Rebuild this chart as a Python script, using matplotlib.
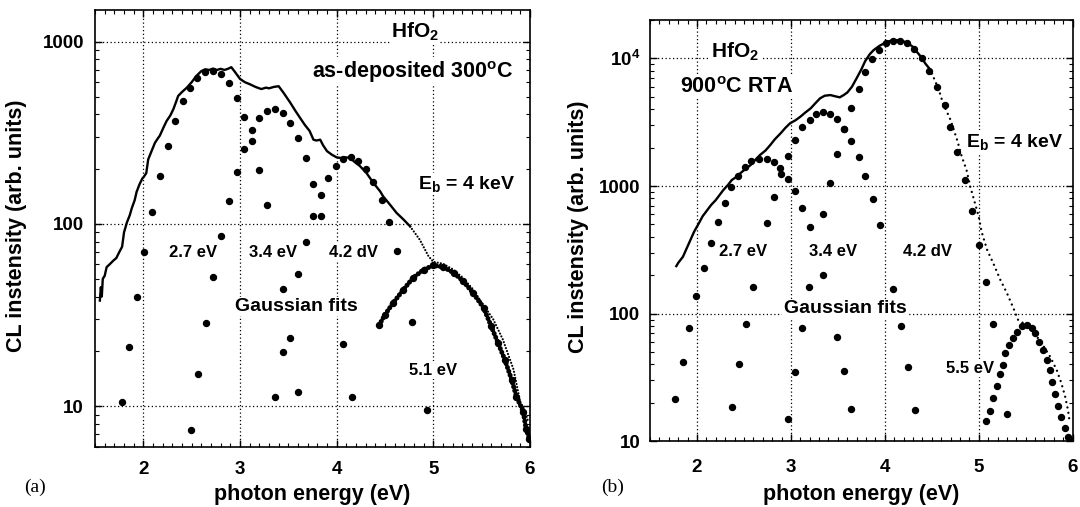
import matplotlib
matplotlib.use("Agg")
import matplotlib.pyplot as plt
from matplotlib.ticker import FixedLocator, FixedFormatter, MultipleLocator, LogLocator, NullFormatter

plt.rcParams['font.family'] = ['Liberation Sans', 'DejaVu Sans']
plt.rcParams['font.weight'] = 'bold'
plt.rcParams['mathtext.default'] = 'regular'

# -----------------------------
# (a) as-deposited 300 C
# -----------------------------
# measured spectrum, solid part
a_meas_x = [1.55, 1.56, 1.57, 1.58, 1.60, 1.62, 1.65, 1.69, 1.72, 1.75, 1.78, 1.80, 1.83, 1.86,
            1.88, 1.91, 1.93, 1.96, 1.99, 2.00, 2.03, 2.05, 2.09, 2.12, 2.15, 2.17, 2.21, 2.24,
            2.28, 2.31, 2.34, 2.36, 2.40, 2.45, 2.50, 2.55, 2.60, 2.64, 2.68, 2.72, 2.76, 2.80,
            2.84, 2.88, 2.91, 2.95, 3.00, 3.05, 3.10, 3.16, 3.22, 3.27, 3.30, 3.35, 3.40, 3.45,
            3.52, 3.57, 3.62, 3.67, 3.72, 3.76, 3.79, 3.83, 3.86, 3.90, 3.95, 4.00, 4.05, 4.10,
            4.14, 4.19, 4.24, 4.31, 4.38, 4.45, 4.48, 4.55, 4.62, 4.69, 4.76]
a_meas_y = [38, 45, 40, 50, 52, 58, 60, 63, 65, 70, 75, 90, 102, 112,
            122, 135, 150, 165, 178, 180, 190, 226, 255, 279, 295, 305, 340, 367,
            395, 426, 470, 504, 530, 560, 600, 650, 690, 706, 700, 712, 700, 710,
            700, 712, 725, 680, 625, 600, 585, 565, 550, 560, 555, 565, 570, 525,
            463, 420, 383, 350, 324, 290, 287, 290, 270, 251, 240, 232, 230, 232,
            230, 218, 208, 190, 168, 151, 142, 128, 115, 106, 97]
# measured spectrum, dotted tail
a_tail_x = [4.76, 4.86, 4.95, 5.00, 5.10, 5.20, 5.30, 5.40, 5.48, 5.55, 5.62, 5.72, 5.83, 5.90, 5.94, 5.98]
a_tail_y = [97, 82, 66.6, 62, 60.5, 56.5, 51, 44.5, 38.5, 34, 30, 23.2, 15.9, 10.5, 9.6, 8.3]

# Gaussian fits
a_g1_x = [1.78, 1.855, 1.93, 2.01, 2.085, 2.17, 2.25, 2.33, 2.41, 2.48, 2.56, 2.64, 2.72, 2.80,
          2.885, 2.965, 3.045, 3.12, 3.20, 3.28, 3.44, 3.52, 3.60]
a_g1_y = [10.6, 21.1, 39.8, 70.3, 117, 183, 267, 366, 473, 560, 631, 680, 690, 665,
          591, 489, 384, 284, 197, 127, 44, 23.7, 12.0]
a_g2_x = [2.49, 2.565, 2.645, 2.725, 2.805, 2.885, 2.965, 3.045, 3.12, 3.20, 3.28, 3.36, 3.44,
          3.52, 3.60, 3.68, 3.76, 3.835, 4.07, 4.155]
a_g2_y = [7.4, 15.1, 28.8, 51.5, 85.7, 133, 192, 259, 326, 380, 417, 426, 406,
          360, 298, 229, 165, 111, 21.9, 11.2]
a_g3_x = [3.36, 3.44, 3.60, 3.68, 3.76, 3.835, 3.915, 3.995, 4.07, 4.145, 4.225, 4.30, 4.38,
          4.465, 4.545, 4.62, 4.775, 4.935]
a_g3_y = [11.2, 19.9, 53, 80, 111, 145, 179, 207, 226, 232, 221, 201, 170,
          135, 102, 71.5, 29.1, 9.5]
a_g4_x = [4.44, 4.50, 4.585, 4.69, 4.79, 4.90, 5.00, 5.10, 5.21, 5.31, 5.41, 5.52, 5.60, 5.67,
          5.74, 5.81, 5.86, 5.93, 5.96, 5.995]
a_g4_y = [27.9, 31.8, 36.9, 43.6, 50.6, 56.2, 59.2, 58.2, 54.0, 48.5, 41.9, 34.7, 27.4, 22.2,
          18.0, 14.0, 11.3, 9.35, 7.5, 6.6]

# -----------------------------
# (b) 900 C RTA
# -----------------------------
b_meas_x = [1.78, 1.80, 1.85, 1.93, 1.97, 2.02, 2.06, 2.11, 2.15, 2.20, 2.24, 2.28, 2.33, 2.37,
            2.42, 2.46, 2.51, 2.57, 2.62, 2.67, 2.73, 2.78, 2.83, 2.89, 2.94, 2.99, 3.05, 3.10,
            3.15, 3.21, 3.26, 3.31, 3.36, 3.42, 3.47, 3.52, 3.56, 3.60, 3.65, 3.70, 3.75, 3.79,
            3.84, 3.88, 3.94, 3.99, 4.04, 4.09, 4.16, 4.21, 4.25, 4.30, 4.34, 4.39, 4.43, 4.47, 4.50]
b_meas_y = [236, 250, 279, 378, 440, 511, 580, 649, 710, 777, 850, 930, 1020, 1114,
            1180, 1257, 1350, 1459, 1600, 1749, 1900, 2095, 2330, 2587, 2850, 3098, 3280, 3490,
            3750, 4059, 4450, 4863, 5100, 5160, 5050, 4953, 5150, 5400, 6000, 7000, 8200, 9500,
            10800, 11600, 12500, 13100, 13600, 13900, 13900, 13500, 13100, 12300, 11270, 10200, 9140, 8400, 7640]
b_tail_x = [4.50, 4.57, 4.62, 4.70, 4.77, 4.82, 4.87, 4.91, 4.96, 5.00, 5.03, 5.09, 5.155, 5.23,
            5.30, 5.37, 5.42, 5.51, 5.65, 5.76, 5.83, 5.88, 5.92, 5.95, 5.97]
b_tail_y = [7640, 5820, 4443, 3292, 2292, 1695, 1334, 988, 733, 575, 439, 315, 248, 184,
            145, 110, 89, 81.5, 62, 46, 36.2, 28.5, 22.4, 17.6, 13.9]

b_g1_x = [1.77, 1.85, 1.92, 1.99, 2.07, 2.15, 2.22, 2.30, 2.36, 2.435, 2.51, 2.58, 2.655, 2.745,
          2.82, 2.885, 2.97, 3.04, 3.12, 3.20, 3.34, 3.49, 3.565, 3.64]
b_g1_y = [21.6, 42.1, 77.6, 138, 227, 360, 522, 740, 988, 1197, 1409, 1570, 1627, 1636,
          1534, 1384, 1135, 908, 672, 478, 200, 66, 35.4, 17.8]
b_g2_x = [2.37, 2.445, 2.52, 2.595, 2.745, 2.82, 2.895, 2.97, 3.04, 3.12, 3.20, 3.265, 3.34, 3.42,
          3.495, 3.565, 3.64, 3.72, 3.79, 3.87, 3.945, 4.09, 4.17, 4.245, 4.32]
b_g2_y = [18.5, 40.6, 83.6, 163, 511, 816, 1237, 1727, 2306, 2884, 3290, 3643, 3797, 3643,
          3326, 2812, 2249, 1695, 1205, 791, 495, 156, 79.6, 38.5, 17.5]
b_g3_x = [2.97, 3.04, 3.115, 3.195, 3.34, 3.42, 3.495, 3.565, 3.64, 3.72, 3.79, 3.86, 3.94, 4.015,
          4.09, 4.165, 4.24, 4.315, 4.395, 4.47, 4.56, 4.64, 4.695, 4.77, 4.855, 4.925, 5.00,
          5.08, 5.155, 5.305]
b_g3_y = [15.0, 35.2, 77.2, 161, 606, 1050, 1770, 2812, 4102, 5780, 7850, 9820, 11610, 13100,
          13740, 13740, 13100, 11830, 10000, 7910, 5997, 4282, 2884, 1845, 1114, 637, 344,
          176, 83.6, 16.4]
b_g4_x = [5.078, 5.12, 5.155, 5.19, 5.227, 5.255, 5.28, 5.326, 5.368, 5.404, 5.457, 5.511, 5.564,
          5.60, 5.645, 5.681, 5.723, 5.759, 5.777, 5.812, 5.847, 5.876, 5.918, 5.953, 5.975]
b_g4_y = [14.3, 17.4, 21.7, 27.1, 33.5, 39.6, 49, 56.9, 64.2, 72.3, 80.1, 81.5, 76.8,
          70.2, 60.4, 52, 43.4, 36.2, 29.4, 23.5, 18.9, 15.4, 12.7, 10.9, 10.2]


def style_axes(ax, ylim, yticks, ylabels):
    ax.set_yscale('log')
    ax.set_xlim(1.5, 6)
    ax.set_ylim(*ylim)
    ax.xaxis.set_major_locator(FixedLocator([2, 3, 4, 5, 6]))
    ax.xaxis.set_minor_locator(MultipleLocator(0.1))
    ax.yaxis.set_major_locator(FixedLocator(yticks))
    ax.yaxis.set_major_formatter(FixedFormatter(ylabels))
    ax.yaxis.set_minor_locator(LogLocator(base=10, subs=range(2, 10)))
    ax.yaxis.set_minor_formatter(NullFormatter())
    ax.tick_params(which='both', direction='in', top=True, right=True, labelsize=13.5)
    ax.tick_params(which='major', length=5, width=1)
    ax.tick_params(which='minor', length=3, width=0.8)
    ax.grid(True, which='major', linestyle=(0, (1, 2)), color='black', lw=0.9)
    for sp in ax.spines.values():
        sp.set_linewidth(1.2)
    ax.set_xlabel("photon energy (eV)", fontsize=15.5, fontweight='bold')
    ax.set_ylabel("CL instensity (arb. units)", fontsize=15.5, fontweight='bold')


def label(ax, x, y, s, size, ha='center'):
    ax.text(x, y, s, ha=ha, va='center', fontsize=size, fontweight='bold', zorder=6,
            bbox=dict(facecolor='white', edgecolor='none', pad=1.0))


fig = plt.figure(figsize=(10.8, 5.07), dpi=100)
ax_a = fig.add_axes([0.088, 0.119, 0.4027, 0.862])
ax_b = fig.add_axes([0.6019, 0.1296, 0.3913, 0.831])

dot = dict(linestyle='none', marker='o', ms=4.3, color='black', zorder=3)

# panel (a)
ax_a.plot(a_meas_x, a_meas_y, color='black', lw=1.7, zorder=4)
ax_a.plot(a_tail_x, a_tail_y, color='black', lw=1.6, linestyle=(0, (0.01, 1.4)),
          dash_capstyle='round', zorder=4)
for gx, gy in [(a_g1_x, a_g1_y), (a_g2_x, a_g2_y), (a_g3_x, a_g3_y)]:
    ax_a.plot(gx, gy, **dot)
ax_a.plot(a_g4_x, a_g4_y, color='black', lw=3.6, linestyle=(0, (0.01, 0.8)),
          dash_capstyle='round', zorder=3)
ax_a.plot(a_g4_x, a_g4_y, **dot)
style_axes(ax_a, (6, 1500), [10, 100, 1000], ["10", "100", "1000"])
ax_a.tick_params(axis='y', which='major', pad=8)
ax_a.tick_params(axis='x', which='major', pad=10)
ax_a.yaxis.set_label_coords(-0.156, 0.505)
ax_a.xaxis.set_label_coords(0.5, -0.085)

label(ax_a, 4.81, 1130, "HfO$_2$", 15)
label(ax_a, 4.79, 685, "as-deposited 300$^o$C", 15.5)
label(ax_a, 5.34, 166, "E$_b$ = 4 keV", 14)
label(ax_a, 2.51, 70, "2.7 eV", 12)
label(ax_a, 3.34, 70, "3.4 eV", 12)
label(ax_a, 4.17, 70, "4.2 dV", 12)
label(ax_a, 3.586, 35.3, "Gaussian fits", 14)
label(ax_a, 4.993, 15.8, "5.1 eV", 12)

# panel (b)
ax_b.plot(b_meas_x, b_meas_y, color='black', lw=1.7, zorder=4)
ax_b.plot(b_tail_x, b_tail_y, color='black', lw=1.7, linestyle=(0, (0.01, 2.3)),
          dash_capstyle='round', zorder=4)
for gx, gy in [(b_g1_x, b_g1_y), (b_g2_x, b_g2_y), (b_g3_x, b_g3_y), (b_g4_x, b_g4_y)]:
    ax_b.plot(gx, gy, **dot)
style_axes(ax_b, (10, 2e4), [10, 100, 1000, 1e4], ["10", "100", "1000", "10$^4$"])
ax_b.tick_params(axis='y', which='major', pad=7)
ax_b.tick_params(axis='x', which='major', pad=13)
ax_b.yaxis.set_label_coords(-0.144, 0.51)
ax_b.xaxis.set_label_coords(0.5, -0.101)

label(ax_b, 2.407, 11270, "HfO$_2$", 15)
label(ax_b, 1.815, 5930, "900$^o$C RTA", 15.5, ha='left')
label(ax_b, 5.386, 2222, "E$_b$ = 4 keV", 14)
label(ax_b, 2.49, 306, "2.7 eV", 12)
label(ax_b, 3.45, 306, "3.4 eV", 12)
label(ax_b, 4.45, 306, "4.2 dV", 12)
label(ax_b, 3.576, 110, "Gaussian fits", 14)
label(ax_b, 4.907, 37.3, "5.5 eV", 12)

# panel letters
fig.text(0.032, 0.038, "(a)", family='Liberation Serif', fontweight='normal', fontsize=14,
         ha='center', va='center')
fig.text(0.567, 0.038, "(b)", family='Liberation Serif', fontweight='normal', fontsize=14,
         ha='center', va='center')

plt.savefig("out.png", dpi=100)
